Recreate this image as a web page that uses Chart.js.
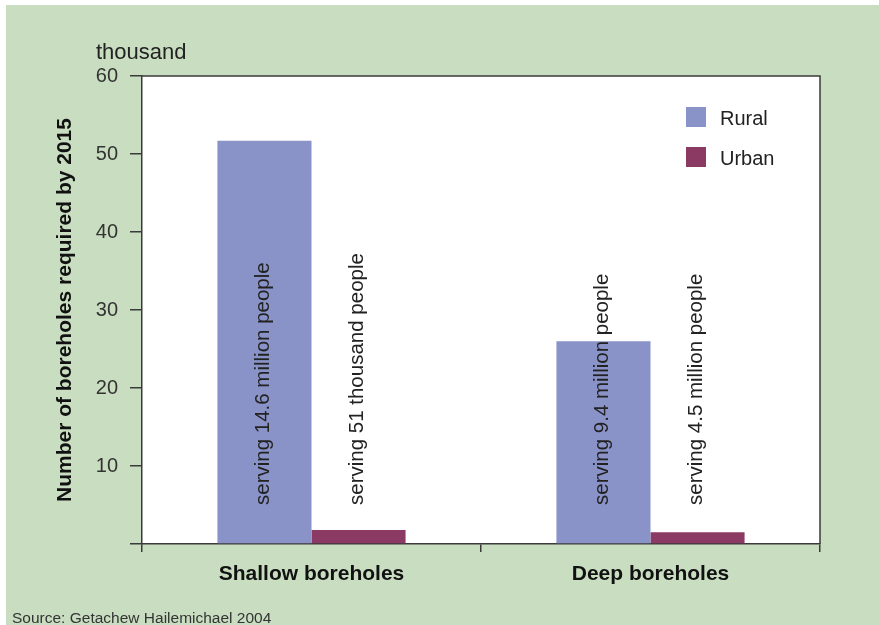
<!DOCTYPE html>
<html>
<head>
<meta charset="utf-8">
<script src="https://cdn.jsdelivr.net/npm/chart.js@4.4.1/dist/chart.umd.min.js"></script>
<style>
  html, body { margin: 0; padding: 0; background: #ffffff; }
  #wrap { position: absolute; left: 0; top: 0; width: 879px; height: 625px; }
</style>
</head>
<body>
<div id="wrap"><canvas id="c" width="879" height="625"></canvas></div>
<script>
// ---- Data ----
const categories = ['Shallow boreholes', 'Deep boreholes'];
const seriesNames = ['Rural', 'Urban'];
const ruralValues = [51.7, 26.0];
const urbanValues = [1.8, 1.5];
const ruralBarLabels = ['serving 14.6 million people', 'serving 9.4 million people'];
const urbanBarLabels = ['serving 51 thousand people', 'serving 4.5 million people'];
const yUnitLabel = 'thousand';
const yTitle = 'Number of boreholes required by 2015';
const sourceText = 'Source: Getachew Hailemichael 2004';

const COLORS = { rural: '#8a93c8', urban: '#8b3b63', bg: '#c9dec0', axis: '#3a3a3a', text: '#222222' };
const FONT = '"Liberation Sans", Arial, Helvetica, sans-serif';

const backgroundPlugin = {
  id: 'bg',
  beforeDraw(chart) {
    const ctx = chart.ctx, a = chart.chartArea;
    ctx.save();
    ctx.fillStyle = '#ffffff';
    ctx.fillRect(0, 0, chart.width, chart.height);
    ctx.fillStyle = COLORS.bg;
    ctx.fillRect(6, 5, chart.width - 6, chart.height - 5);
    ctx.fillStyle = '#ffffff';
    ctx.fillRect(a.left, a.top, a.right - a.left, a.bottom - a.top);
    ctx.restore();
  }
};

const decorPlugin = {
  id: 'decor',
  afterDatasetsDraw(chart) {
    const ctx = chart.ctx;
    const y = chart.scales.y;
    const startY = y.getPixelForValue(5);
    const labelSets = [ruralBarLabels, urbanBarLabels];
    ctx.save();
    ctx.fillStyle = COLORS.text;
    ctx.font = '20.5px ' + FONT;
    ctx.textAlign = 'left';
    ctx.textBaseline = 'middle';
    chart.data.datasets.forEach((ds, i) => {
      const meta = chart.getDatasetMeta(i);
      meta.data.forEach((bar, j) => {
        ctx.save();
        ctx.translate(bar.x - 1, startY);
        ctx.rotate(-Math.PI / 2);
        ctx.fillText(labelSets[i][j], 0, 0);
        ctx.restore();
      });
    });
    ctx.restore();
  },
  afterDraw(chart) {
    const ctx = chart.ctx, a = chart.chartArea;
    ctx.save();
    // frame top & right
    ctx.strokeStyle = COLORS.axis;
    ctx.lineWidth = 1.5;
    ctx.beginPath();
    ctx.moveTo(a.left, a.top);
    ctx.lineTo(a.right, a.top);
    ctx.lineTo(a.right, a.bottom);
    ctx.stroke();
    // unit label
    ctx.fillStyle = COLORS.text;
    ctx.font = '22px ' + FONT;
    ctx.textAlign = 'left';
    ctx.textBaseline = 'alphabetic';
    ctx.fillText(yUnitLabel, 96, 59);
    // legend
    ctx.font = '20px ' + FONT;
    chart.data.datasets.forEach((ds, i) => {
      const top = a.top + 31 + i * 40;
      ctx.fillStyle = ds.backgroundColor;
      ctx.fillRect(a.right - 134, top, 20, 20);
      ctx.fillStyle = COLORS.text;
      ctx.fillText(ds.label, a.right - 100, top + 18);
    });
    // source
    ctx.font = '15.5px ' + FONT;
    ctx.fillStyle = '#333333';
    ctx.fillText(sourceText, 12, 623);
    ctx.restore();
  }
};

new Chart(document.getElementById('c'), {
  type: 'bar',
  data: {
    labels: categories,
    datasets: [
      { label: seriesNames[0], data: ruralValues, backgroundColor: COLORS.rural, borderWidth: 0 },
      { label: seriesNames[1], data: urbanValues, backgroundColor: COLORS.urban, borderWidth: 0 }
    ]
  },
  options: {
    responsive: false,
    animation: false,
    devicePixelRatio: 1,
    layout: { padding: { left: 0, right: 59, top: 76, bottom: 0 } },
    datasets: { bar: { categoryPercentage: 0.555, barPercentage: 1.0 } },
    plugins: { legend: { display: false }, tooltip: { enabled: false } },
    scales: {
      x: {
        type: 'category',
        offset: true,
        grid: { offset: true, drawOnChartArea: false, tickLength: 8, color: COLORS.axis, lineWidth: 1.5 },
        border: { display: true, color: COLORS.axis, width: 1.5 },
        ticks: { color: '#111111', padding: 10, font: { family: FONT, size: 21, weight: 'bold' } },
        afterFit(scale) { scale.height = 81; }
      },
      y: {
        min: 0, max: 60,
        grid: { drawOnChartArea: false, tickLength: 12, color: COLORS.axis, lineWidth: 1.5 },
        border: { display: true, color: COLORS.axis, width: 1.5 },
        ticks: {
          stepSize: 10, padding: 12, color: '#333333',
          font: { family: FONT, size: 20 },
          callback: (v) => (v === 0 ? '' : String(v))
        },
        title: {
          display: true, text: yTitle, color: '#111111',
          font: { family: FONT, size: 21, weight: 'bold' },
          padding: { top: 53, bottom: 0 }
        },
        afterFit(scale) { scale.width = 142; }
      }
    }
  },
  plugins: [backgroundPlugin, decorPlugin]
});
</script>
</body>
</html>
